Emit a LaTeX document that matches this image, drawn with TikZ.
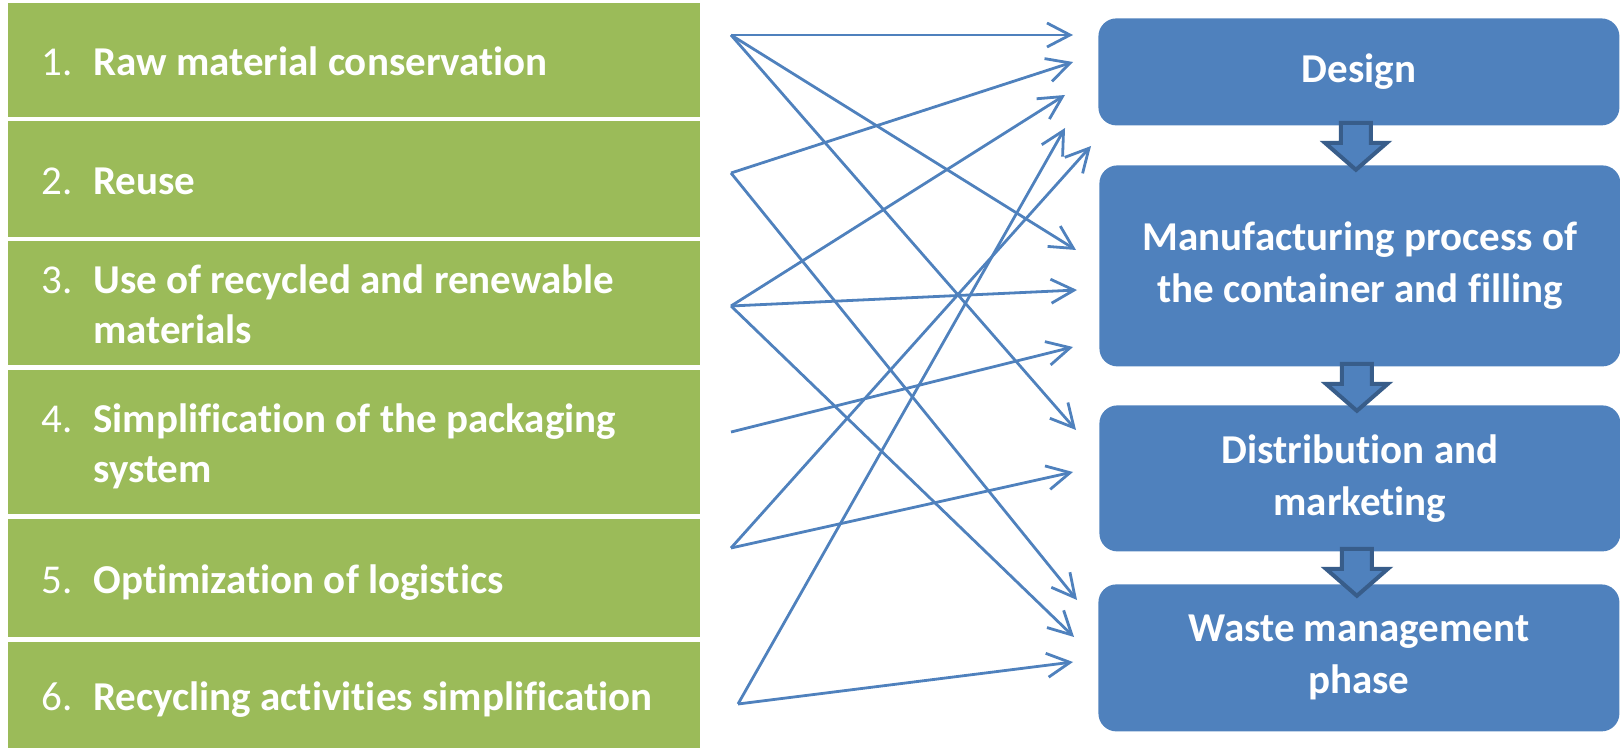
\documentclass[tikz,border=0pt]{standalone}
\usepackage{fontspec}
\setmainfont{Carlito}[RawFeature={-liga;-clig;-calt;-dlig;-rlig;-hlig}]
\usetikzlibrary{arrows.meta,calc}

\definecolor{itemgreen}{HTML}{9BBB59}
\definecolor{stageblue}{HTML}{4F81BD}
\definecolor{stageedge}{HTML}{385D8A}

% number + bold label, further lines hang under the label
\newcommand\strategy[2]{\noindent\spaceskip=0pt\rule{0pt}{22.5pt}\makebox[26pt][l]{#1}{\bfseries\begin{tabular}[t]{@{}l@{}}#2\end{tabular}}}

\begin{document}
\begin{tikzpicture}[x=0.5pt, y=-0.5pt,
	item/.style={fill=itemgreen, text=white, anchor=north west, minimum width=346pt, inner xsep=16.5pt, inner ysep=0pt, text width=313pt, align=left, font=\fontsize{20.5}{25}\selectfont},
	stage/.style={fill=stageblue, text=white, anchor=north west, rounded corners=9pt, minimum width=260.5pt, align=center, font=\fontsize{20.5}{26}\selectfont\bfseries},
	link/.style={draw=stageblue, line width=1.4pt, -{Straight Barb[length=11.5pt,width=12pt]}},
	flow/.style={draw=stageedge, fill=stageblue, line width=2pt}]

\useasboundingbox (0,0) rectangle (1620,748);

% Strategies
\node[item, minimum height=57pt] (i1) at (8,3) {\strategy{1.}{Raw material conservation}};
\node[item, minimum height=58pt] (i2) at (8,121) {\strategy{2.}{Reuse}};
\node[item, minimum height=62pt] (i3) at (8,241) {\strategy{3.}{Use of recycled and renewable\\materials}};
\node[item, minimum height=72pt] (i4) at (8,370) {\strategy{4.}{Simplification of the packaging\\system}};
\node[item, minimum height=59pt] (i5) at (8,519) {\strategy{5.}{Optimization of logistics}};
\node[item, minimum height=53pt] (i6) at (8,642) {\strategy{6.}{Recycling activities simplification}};

% Life cycle stages
\node[stage, minimum height=53.5pt] (design) at (1098,18) {Design};
\node[stage, minimum height=100.5pt] (manuf) at (1099,165) {Manufacturing process of\\the container and filling};
\node[stage, minimum height=73pt] (distrib) at (1099,405) {Distribution and\\marketing};
\node[stage, minimum height=73.5pt] (waste) at (1098,584) {Waste management\\phase};

% Block arrows between stages
\foreach \s in {design, manuf, distrib}
	\draw[flow] ($(\s.south)+(-18,-3)$) -- ++(30,0) -- ++(0,20) -- ++(16,0) -- ++(-31,27) -- ++(-31,-27) -- ++(16,0) -- cycle;

% Start points
\foreach \n/\x/\y in {1/731/35, 2/731/173, 3/731/306, 4/731/432, 5/731/548, 6/738/704}
	\coordinate (src\n) at (\x,\y);

% End points in front of the stages
\coordinate (d1) at (1073,35);
\coordinate (d2) at (1073,62);
\coordinate (d3) at (1065,95);
\coordinate (d4) at (1065,128);
\coordinate (d5) at (1091,146);
\coordinate (m1) at (1076,250);
\coordinate (m2) at (1077,290);
\coordinate (m3) at (1073,347);
\coordinate (r1) at (1076,430);
\coordinate (r2) at (1073,472);
\coordinate (w1) at (1077,600);
\coordinate (w2) at (1074,637);
\coordinate (w3) at (1073,662);

% Connections from strategies to stages
\foreach \a/\b in {src1/d1, src1/m1, src1/r1, src2/d2, src2/w1, src3/d3, src3/m2, src3/w2, src4/m3, src5/d5, src5/r2, src6/d4, src6/w3}
	\draw[link] (\a) -- (\b);
\end{tikzpicture}
\end{document}
